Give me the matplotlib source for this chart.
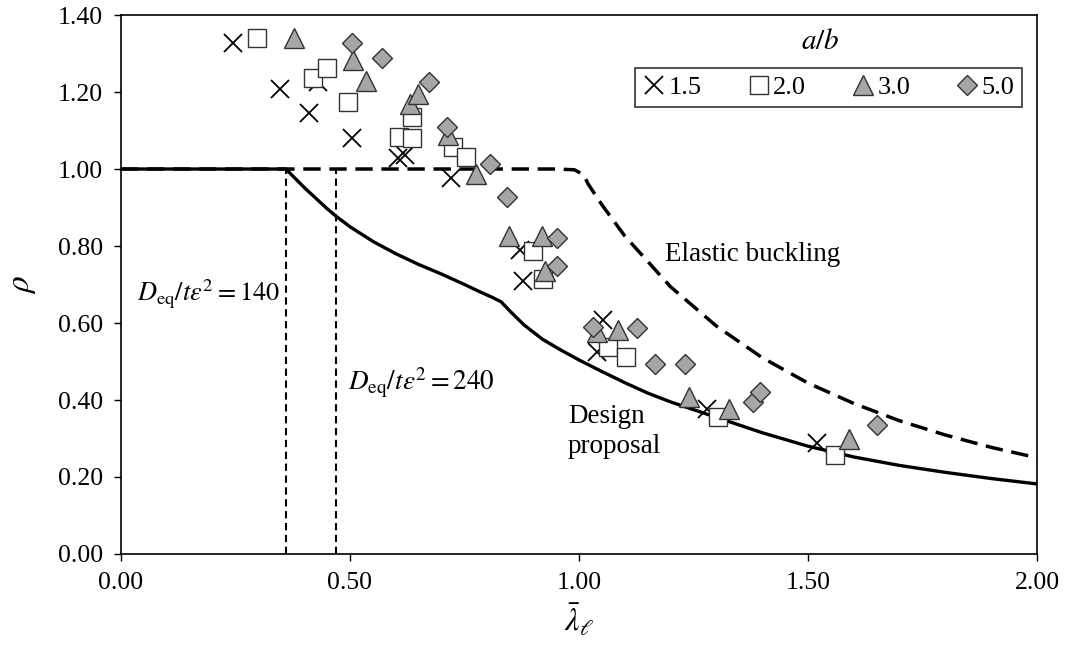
import numpy as np
import matplotlib
matplotlib.use("Agg")
import matplotlib.pyplot as plt

plt.rcParams['font.family'] = ['Liberation Serif', 'DejaVu Serif']
plt.rcParams['mathtext.fontset'] = 'stix'
plt.rcParams['font.size'] = 18

# test data, a/b series (lambda, rho)
x15 = [0.245, 0.347, 0.410, 0.430, 0.504, 0.605, 0.620, 0.720, 0.871, 0.878, 1.039, 1.052, 1.279, 1.519]
y15 = [1.327, 1.208, 1.145, 1.226, 1.081, 1.029, 1.036, 0.977, 0.790, 0.709, 0.525, 0.608, 0.377, 0.288]

x20 = [0.297, 0.419, 0.450, 0.496, 0.607, 0.635, 0.635, 0.725, 0.753, 0.900, 0.921, 1.063, 1.102, 1.303, 1.559]
y20 = [1.340, 1.237, 1.262, 1.174, 1.083, 1.080, 1.135, 1.057, 1.031, 0.787, 0.714, 0.538, 0.512, 0.356, 0.257]

x30 = [0.378, 0.507, 0.535, 0.631, 0.648, 0.714, 0.775, 0.847, 0.919, 0.926, 1.039, 1.085, 1.240, 1.328, 1.590]
y30 = [1.340, 1.283, 1.229, 1.169, 1.195, 1.088, 0.987, 0.826, 0.826, 0.735, 0.577, 0.582, 0.408, 0.377, 0.299]

x50 = [0.505, 0.570, 0.672, 0.711, 0.806, 0.843, 0.952, 0.952, 1.031, 1.127, 1.166, 1.231, 1.380, 1.395, 1.650]
y50 = [1.327, 1.289, 1.226, 1.109, 1.013, 0.927, 0.821, 0.748, 0.590, 0.587, 0.494, 0.494, 0.395, 0.421, 0.335]

# design proposal curve
x_design = [0.0, 0.36, 0.40, 0.45, 0.47, 0.50, 0.55, 0.60, 0.65, 0.70, 0.75, 0.78, 0.81, 0.83,
            0.85, 0.88, 0.92, 0.96, 1.00, 1.05, 1.10, 1.15, 1.20, 1.30, 1.40, 1.50, 1.60,
            1.70, 1.80, 1.90, 2.00]
y_design = [1.0, 1.0, 0.952, 0.897, 0.877, 0.850, 0.812, 0.780, 0.752, 0.727, 0.700, 0.683, 0.667, 0.655,
            0.630, 0.595, 0.558, 0.530, 0.504, 0.474, 0.445, 0.418, 0.395, 0.355, 0.315, 0.280, 0.252,
            0.230, 0.212, 0.196, 0.182]

# elastic buckling curve
x_elastic = [0.0, 0.95, 0.99, 1.01, 1.02, 1.05, 1.10, 1.20, 1.30, 1.40, 1.50, 1.60, 1.70, 1.80, 1.90, 2.00]
y_elastic = [1.0, 1.0, 0.998, 0.985, 0.961, 0.907, 0.826, 0.694, 0.592, 0.510, 0.444, 0.391, 0.346, 0.309, 0.277, 0.250]

# slenderness limits for D_eq/t eps^2 = 140 and 240
x_limits = [0.36, 0.47]

fig = plt.figure(figsize=(10.66, 6.56), dpi=100)
ax = fig.add_axes([0.1135, 0.1555, 0.8593, 0.8216])

ax.plot(x_design, y_design, color='black', lw=2.4, solid_capstyle='butt', zorder=2)
ax.plot(x_elastic, y_elastic, color='black', lw=2.5, dashes=(5, 2.5), zorder=2)
for xl in x_limits:
    ax.plot([xl, xl], [0, 1.0], color='black', lw=1.5, dashes=(3.5, 2.2), zorder=2)

gray = '#a6a6a6'
ax.plot(x15, y15, ls='none', marker='x', ms=13.5, mew=1.3, color='black', label='1.5', zorder=3)
ax.plot(x20, y20, ls='none', marker='s', ms=13.5, mew=1.0, mfc='white', mec='#333333', label='2.0', zorder=4)
ax.plot(x30, y30, ls='none', marker='^', ms=14, mew=1.0, mfc=gray, mec='#333333', label='3.0', zorder=5)
ax.plot(x50, y50, ls='none', marker='D', ms=9.7, mew=1.0, mfc=gray, mec='#333333', label='5.0', zorder=6)

ax.set_xlim(0, 2.0)
ax.set_ylim(0, 1.4)
ax.set_xticks(np.arange(0, 2.01, 0.5))
ax.set_yticks(np.arange(0, 1.41, 0.2))
ax.set_xticklabels([f"{v:.2f}" for v in np.arange(0, 2.01, 0.5)])
ax.set_yticklabels([f"{v:.2f}" for v in np.arange(0, 1.41, 0.2)])
ax.tick_params(direction='out', length=5, width=1, labelsize=18.5, pad=8)
for s in ax.spines.values():
    s.set_linewidth(1.2)

ax.set_xlabel(r'$\bar{\lambda}_{\ell}$', fontsize=23, labelpad=6)
ax.set_ylabel(r'$\rho$', fontsize=24, labelpad=14)

ax.text(0.035, 0.673, r'$D_{\rm eq}/t\varepsilon^2 = 140$', fontsize=19, va='center', ha='left')
ax.text(0.496, 0.444, r'$D_{\rm eq}/t\varepsilon^2 = 240$', fontsize=19.5, va='center', ha='left')
ax.text(1.188, 0.777, 'Elastic buckling', fontsize=19.5, va='center', ha='left')
ax.text(0.976, 0.318, 'Design\nproposal', fontsize=19.5, va='center', ha='left', linespacing=1.3)

leg = ax.legend(loc='upper right', bbox_to_anchor=(0.984, 0.902), borderaxespad=0, ncol=4,
                fontsize=19, frameon=True, fancybox=False, edgecolor='black', handlelength=0.9,
                handletextpad=0.1, columnspacing=1.7, borderpad=0.3)
leg.get_frame().set_linewidth(1.2)
fig.text(820 / 1066, 1 - 42 / 656, r'$a/b$', fontsize=21, ha='center', va='center')

fig.savefig('out.png', dpi=100)
